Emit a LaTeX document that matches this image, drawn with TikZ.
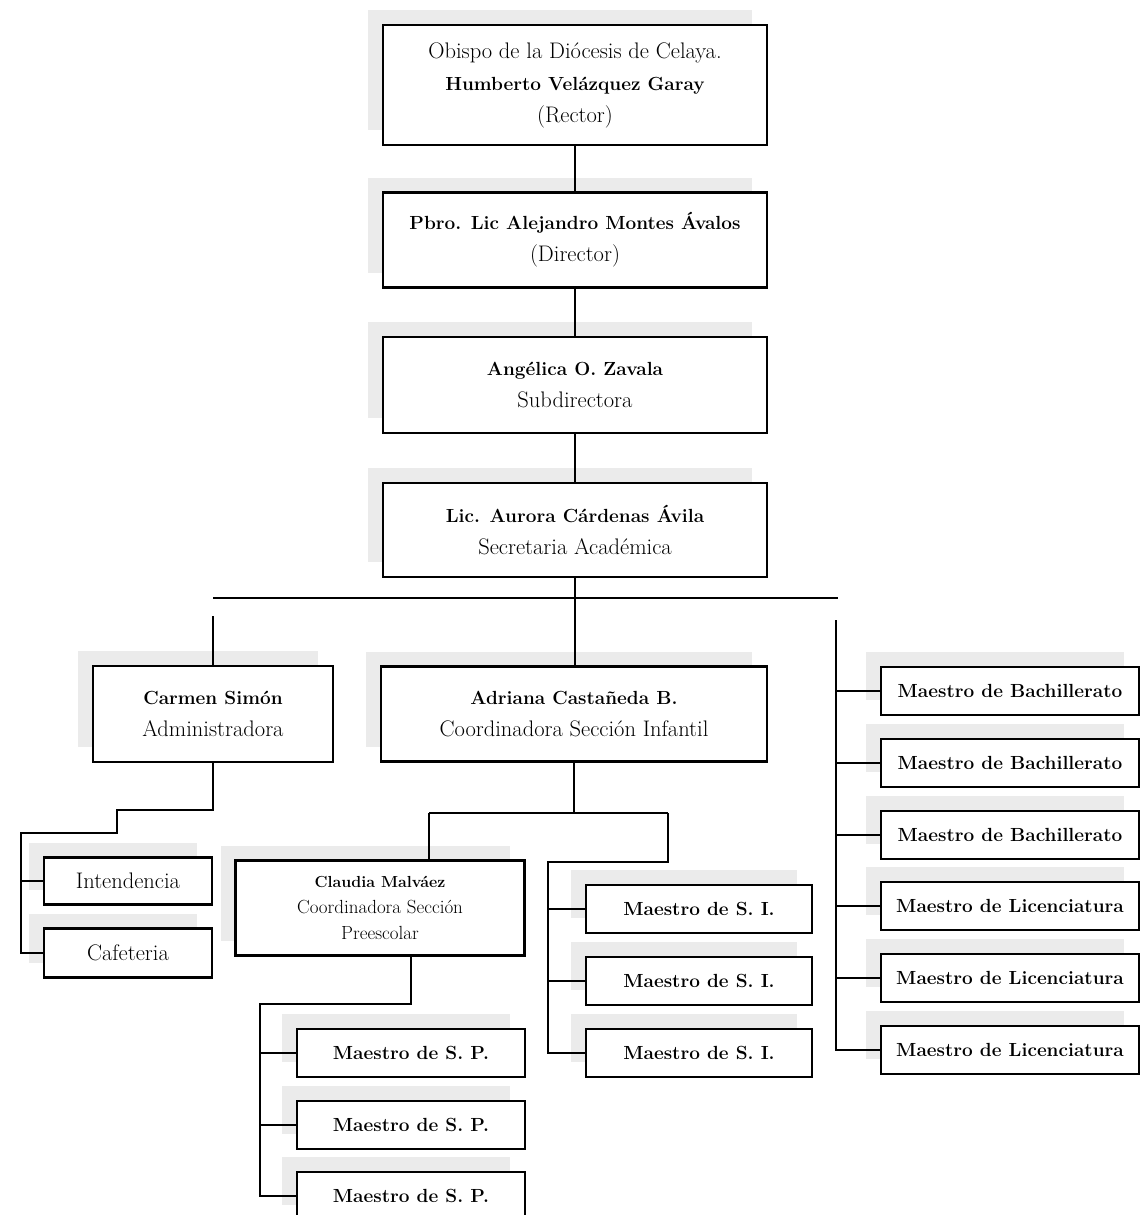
\documentclass[tikz,border=0pt]{standalone}
\usepackage{tikz}
\usetikzlibrary{shadows}
\newcommand{\nombre}[1]{{\fontsize{19}{32}\selectfont\bfseries #1}}

\begin{document}
\begin{tikzpicture}[x=1pt,y=-1pt,
	puesto/.style={draw,rectangle,line width=2.4pt,fill=white,align=center,inner sep=2pt,font=\fontsize{22.5}{32}\selectfont,drop shadow={shadow xshift=-15pt,shadow yshift=15pt,opacity=1,fill=gray!16}},
	maestro/.style={puesto,font=\fontsize{19}{24}\selectfont\bfseries,minimum height=48pt},
	linea/.style={line width=2pt}]
	\useasboundingbox (0,0) rectangle (1141,1215);
	\clip (0,0) rectangle (1141,1215);

	% direccion
	\node[puesto,minimum width=384pt,minimum height=120pt] (rector) at (575,85) {Obispo de la Diócesis de Celaya.\\\nombre{Humberto Velázquez Garay}\\(Rector)};
	\node[puesto,minimum width=384pt,minimum height=95pt] (director) at (575,240) {\nombre{Pbro. Lic Alejandro Montes Ávalos}\\(Director)};
	\node[puesto,minimum width=384pt,minimum height=96pt] (subdir) at (575,385) {\nombre{Angélica O. Zavala}\\Subdirectora};
	\node[puesto,minimum width=384pt,minimum height=94pt] (secretaria) at (575,530) {\nombre{Lic. Aurora Cárdenas Ávila}\\Secretaria Académica};

	\draw[linea] (rector) -- (director);
	\draw[linea] (director) -- (subdir);
	\draw[linea] (subdir) -- (secretaria);

	% segundo nivel
	\node[puesto,minimum width=240pt,minimum height=96pt] (admin) at (213,714) {\nombre{Carmen Simón}\\Administradora};
	\node[puesto,minimum width=386pt,minimum height=95pt] (infantil) at (574,714) {\nombre{Adriana Castañeda B.}\\Coordinadora Sección Infantil};
	\node[puesto,minimum width=168pt,minimum height=47pt] (intendencia) at (128,881) {Intendencia};
	\node[puesto,minimum width=168pt,minimum height=49pt] (cafeteria) at (128,953) {Cafeteria};
	\node[puesto,minimum width=289pt,minimum height=95pt,font=\fontsize{19}{26}\selectfont] (preescolar) at (380,908) {{\fontsize{16}{26}\selectfont\bfseries Claudia Malváez}\\Coordinadora Sección\\Preescolar};

	% maestros
	\foreach \y [count=\i] in {909,981,1053}
		\node[maestro,minimum width=226pt] (si\i) at (699,\y) {Maestro de S. I.};
	\foreach \y [count=\i] in {1053,1125,1196}
		\node[maestro,minimum width=228pt] (sp\i) at (411,\y) {Maestro de S. P.};
	\foreach \y [count=\i] in {691,763,835}
		\node[maestro,minimum width=258pt] (bach\i) at (1010,\y) {Maestro de Bachillerato};
	\foreach \y [count=\i] in {906,978,1050}
		\node[maestro,minimum width=258pt] (lic\i) at (1010,\y) {Maestro de Licenciatura};

	% barra
	\coordinate (busL) at (213,598);
	\coordinate (busR) at (838,598);
	\coordinate (colR) at (836,620);
	\draw[linea] (secretaria.south) -- (secretaria.south |- infantil.north);
	\draw[linea] (busL) -- (busR);
	\draw[linea] (admin.north) -- ++(0,-49);
	\draw[linea] (colR) |- (lic3.west);
	\foreach \n in {bach1,bach2,bach3,lic1,lic2}
		\draw[linea] (\n.west) -- (\n.west -| colR);

	% administracion
	\coordinate (serv) at (21,833);
	\draw[linea] (admin.south) -- ++(0,47) -| (117,833) -- (serv) |- (cafeteria.west);
	\draw[linea] (serv |- intendencia.west) -- (intendencia.west);

	% seccion infantil
	\coordinate (ramaL) at (429,813);
	\coordinate (ramaR) at (668,813);
	\coordinate (colSI) at (548,862);
	\draw[linea] (infantil.south) -- (infantil.south |- ramaL);
	\draw[linea] (ramaL) -- (ramaR);
	\draw[linea] (ramaL) -- (ramaL |- preescolar.north);
	\draw[linea] (ramaR) |- (colSI) |- (si3.west);
	\foreach \n in {si1,si2}
		\draw[linea] (\n.west) -- (\n.west -| colSI);

	% preescolar
	\coordinate (colSP) at (260,1004);
	\draw[linea] (preescolar.south -| sp1) |- (colSP) |- (sp3.west);
	\foreach \n in {sp1,sp2}
		\draw[linea] (\n.west) -- (\n.west -| colSP);

\end{tikzpicture}
\end{document}
